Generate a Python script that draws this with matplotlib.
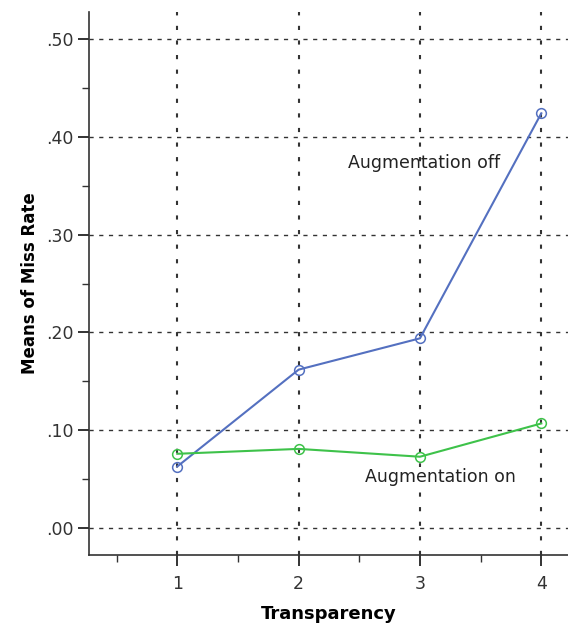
import matplotlib.pyplot as plt
from matplotlib.ticker import FuncFormatter, MultipleLocator

transparency = [1, 2, 3, 4]
miss_off = [0.063, 0.162, 0.194, 0.424]
miss_on = [0.076, 0.081, 0.073, 0.107]

fig = plt.figure(figsize=(5.68, 6.28), dpi=100)
ax = fig.add_axes([0.157, 0.116, 0.843, 0.865])

ax.plot(transparency, miss_off, color='#5470c0', lw=1.5, marker='o', ms=7,
        mfc='none', mec='#5470c0', mew=1.1, zorder=3)
ax.plot(transparency, miss_on, color='#3ec24a', lw=1.5, marker='o', ms=7,
        mfc='none', mec='#3ec24a', mew=1.1, zorder=3)

# label positions in pixels (origin bottom-left)
ax.text(424, 628 - 163, 'Augmentation off', transform=None, fontsize=12.5,
        ha='center', va='center', color='#222222')
ax.text(440, 628 - 477, 'Augmentation on', transform=None, fontsize=12.5,
        ha='center', va='center', color='#222222',
        bbox=dict(facecolor='white', edgecolor='none', pad=1))

ax.set_xlim(0.274, 4.22)
ax.set_ylim(-0.0276, 0.5276)
ax.xaxis.set_major_locator(MultipleLocator(1))
ax.xaxis.set_minor_locator(MultipleLocator(0.5))
ax.yaxis.set_major_locator(MultipleLocator(0.1))
ax.yaxis.set_minor_locator(MultipleLocator(0.05))
ax.yaxis.set_major_formatter(FuncFormatter(lambda v, p: ('%.2f' % v).lstrip('0') if v >= 0 else ''))
ax.xaxis.set_major_formatter(FuncFormatter(lambda v, p: '%d' % v if 1 <= v <= 4 else ''))

ax.grid(True, which='major', axis='y', color='#333333', ls=(0, (3, 4)), lw=1)
ax.grid(True, which='major', axis='x', color='#333333', ls=(0, (2, 5)), lw=1.5)
ax.set_axisbelow(True)

for s in ['top', 'right']:
    ax.spines[s].set_visible(False)
for s in ['left', 'bottom']:
    ax.spines[s].set_color('#333333')
    ax.spines[s].set_linewidth(1.2)

ax.tick_params(which='major', length=8, width=1.4, color='#333333',
               labelsize=12.5, labelcolor='#333333')
ax.tick_params(which='minor', length=5, width=1, color='#333333')
ax.tick_params(axis='x', pad=6)

ax.set_xlabel('Transparency', fontsize=13, fontweight='bold', labelpad=9)
ax.set_ylabel('Means of Miss Rate', fontsize=12, fontweight='bold', labelpad=5)

fig.savefig('out.png', dpi=100)
